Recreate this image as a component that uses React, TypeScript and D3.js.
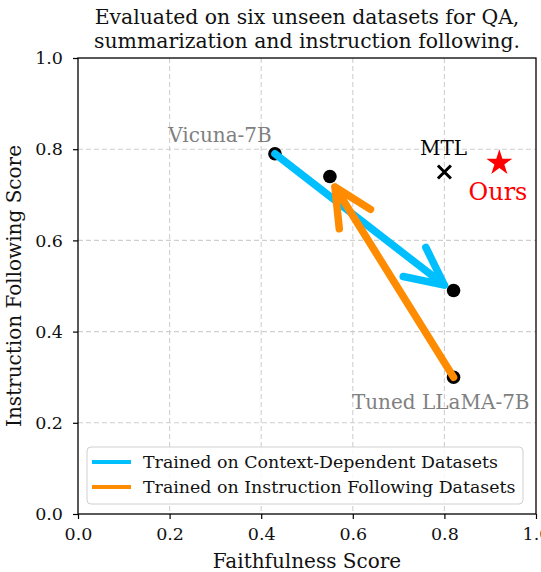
import * as d3 from 'd3';
import React, { useEffect, useRef } from 'react';

// Model points (faithfulness, instruction following)
const pointX = [0.43, 0.55, 0.82, 0.82];
const pointY = [0.79, 0.74, 0.49, 0.30];

// Training trajectories
const seriesNames = [
  'Trained on Context-Dependent Datasets',
  'Trained on Instruction Following Datasets',
];
const seriesColors = ['#00BFFF', '#FF8C00'];
const arrowFrom = [[0.43, 0.79], [0.82, 0.30]];
const arrowTo = [[0.80, 0.502], [0.561, 0.717]];

// Baselines
const mtlPoint = [0.80, 0.75];
const oursPoint = [0.92, 0.77];

// Annotations
const annoText = ['Vicuna-7B', 'Tuned LLaMA-7B', 'MTL', 'Ours'];
const annoX = [0.197, 0.598, 0.798, 0.917];
const annoY = [0.815, 0.23, 0.787, 0.688];

const ticks = [0, 0.2, 0.4, 0.6, 0.8, 1.0];
const titleLines = [
  'Evaluated on six unseen datasets for QA,',
  'summarization and instruction following.',
];

const width = 541;
const height = 572;
const font = '"DejaVu Serif", serif';

const App: React.FC = () => {
  const svgRef = useRef<SVGSVGElement>(null);

  useEffect(() => {
    if (!svgRef.current) return;
    const svg = d3.select(svgRef.current);
    svg.selectAll('*').remove();

    const margin = { top: 58, right: 5, bottom: 58, left: 78 };
    const innerWidth = width - margin.left - margin.right;
    const innerHeight = height - margin.top - margin.bottom;

    const x = d3.scaleLinear().domain([0, 1]).range([0, innerWidth]);
    const y = d3.scaleLinear().domain([0, 1]).range([innerHeight, 0]);

    svg.append('rect').attr('width', width).attr('height', height).attr('fill', 'white');

    const g = svg.append('g').attr('transform', `translate(${margin.left},${margin.top})`);

    // grid
    g.selectAll('.gx')
      .data(ticks.slice(1, -1))
      .join('line')
      .attr('x1', d => x(d)).attr('x2', d => x(d))
      .attr('y1', 0).attr('y2', innerHeight)
      .attr('stroke', '#cfcfcf').attr('stroke-width', 1.1)
      .attr('stroke-dasharray', '5,3');
    g.selectAll('.gy')
      .data(ticks.slice(1, -1))
      .join('line')
      .attr('y1', d => y(d)).attr('y2', d => y(d))
      .attr('x1', 0).attr('x2', innerWidth)
      .attr('stroke', '#cfcfcf').attr('stroke-width', 1.1)
      .attr('stroke-dasharray', '5,3');

    // axes
    const xAxis = g.append('g')
      .attr('transform', `translate(0,${innerHeight})`)
      .call(d3.axisBottom(x).tickValues(ticks).tickFormat(d3.format('.1f')).tickSize(5).tickSizeOuter(0));
    const yAxis = g.append('g')
      .call(d3.axisLeft(y).tickValues(ticks).tickFormat(d3.format('.1f')).tickSize(5).tickSizeOuter(0));
    [xAxis, yAxis].forEach(a => {
      a.select('.domain').remove();
      a.selectAll('line').attr('stroke', '#000').attr('stroke-width', 1.2);
      a.selectAll('text')
        .style('font-family', font)
        .style('font-size', '17.5px')
        .attr('fill', '#111');
    });
    xAxis.selectAll('text').attr('dy', '1.05em');
    yAxis.selectAll('text').attr('dx', '-0.4em');

    // points
    g.selectAll('.pt')
      .data(pointX.map((px, i) => [px, pointY[i]]))
      .join('circle')
      .attr('cx', d => x(d[0]))
      .attr('cy', d => y(d[1]))
      .attr('r', 6.8)
      .attr('fill', '#000');

    // arrows
    const headLen = 42;
    const headAng = (26 * Math.PI) / 180;
    arrowFrom.forEach((from, i) => {
      const x0 = x(from[0]), y0 = y(from[1]);
      const x1 = x(arrowTo[i][0]), y1 = y(arrowTo[i][1]);
      const ang = Math.atan2(y1 - y0, x1 - x0) + Math.PI;
      const w1 = [x1 + headLen * Math.cos(ang + headAng), y1 + headLen * Math.sin(ang + headAng)];
      const w2 = [x1 + headLen * Math.cos(ang - headAng), y1 + headLen * Math.sin(ang - headAng)];
      const path = d3.path();
      path.moveTo(x0, y0);
      path.lineTo(x1, y1);
      path.moveTo(w1[0], w1[1]);
      path.lineTo(x1, y1);
      path.lineTo(w2[0], w2[1]);
      g.append('path')
        .attr('d', path.toString())
        .attr('fill', 'none')
        .attr('stroke', seriesColors[i])
        .attr('stroke-width', 7.5)
        .attr('stroke-linecap', 'round')
        .attr('stroke-linejoin', 'round');
    });

    // MTL cross
    const cx = x(mtlPoint[0]), cy = y(mtlPoint[1]);
    const cs = 6.5;
    g.append('path')
      .attr('d', `M${cx - cs},${cy - cs}L${cx + cs},${cy + cs}M${cx - cs},${cy + cs}L${cx + cs},${cy - cs}`)
      .attr('stroke', '#000')
      .attr('stroke-width', 3);

    // Ours star
    g.append('path')
      .attr('d', d3.symbol().type(d3.symbolStar).size(210)())
      .attr('transform', `translate(${x(oursPoint[0])},${y(oursPoint[1])})`)
      .attr('fill', '#FF0000');

    // annotations
    const annoColor = ['#808080', '#808080', '#000', '#FF0000'];
    const annoSize = [20, 20, 20, 24];
    const annoAnchor = ['start', 'start', 'middle', 'middle'];
    annoText.forEach((t, i) => {
      g.append('text')
        .attr('x', x(annoX[i]))
        .attr('y', y(annoY[i]))
        .attr('text-anchor', annoAnchor[i])
        .style('font-family', font)
        .style('font-size', `${annoSize[i]}px`)
        .attr('fill', annoColor[i])
        .text(t);
    });

    // spines
    g.append('rect')
      .attr('width', innerWidth)
      .attr('height', innerHeight)
      .attr('fill', 'none')
      .attr('stroke', '#000')
      .attr('stroke-width', 1.3);

    // legend
    const lg = g.append('g').attr('transform', `translate(${9},${innerHeight - 67})`);
    lg.append('rect')
      .attr('width', 436)
      .attr('height', 57)
      .attr('rx', 4)
      .attr('fill', 'white')
      .attr('fill-opacity', 0.85)
      .attr('stroke', '#d0d0d0')
      .attr('stroke-width', 1);
    seriesNames.forEach((name, i) => {
      const ly = 15 + i * 25;
      lg.append('line')
        .attr('x1', 5).attr('x2', 44)
        .attr('y1', ly).attr('y2', ly)
        .attr('stroke', seriesColors[i])
        .attr('stroke-width', 4);
      lg.append('text')
        .attr('x', 56)
        .attr('y', ly + 6)
        .style('font-family', font)
        .style('font-size', '17.4px')
        .attr('fill', '#111')
        .text(name);
    });

    // axis labels
    svg.append('text')
      .attr('x', margin.left + innerWidth / 2)
      .attr('y', height - 4)
      .attr('text-anchor', 'middle')
      .style('font-family', font)
      .style('font-size', '20px')
      .attr('fill', '#111')
      .text('Faithfulness Score');
    svg.append('text')
      .attr('transform', `translate(21,${margin.top + innerHeight / 2}) rotate(-90)`)
      .attr('text-anchor', 'middle')
      .style('font-family', font)
      .style('font-size', '20px')
      .attr('fill', '#111')
      .text('Instruction Following Score');

    // title
    titleLines.forEach((line, i) => {
      svg.append('text')
        .attr('x', margin.left + innerWidth / 2)
        .attr('y', 24 + i * 24)
        .attr('text-anchor', 'middle')
        .style('font-family', font)
        .style('font-size', '20.4px')
        .attr('fill', '#111')
        .text(line);
    });
  }, []);

  return (
    <div style={{ position: 'fixed', left: 0, top: 0 }}>
      <svg ref={svgRef} width={width} height={height} style={{ display: 'block' }} />
    </div>
  );
};

export default App;
